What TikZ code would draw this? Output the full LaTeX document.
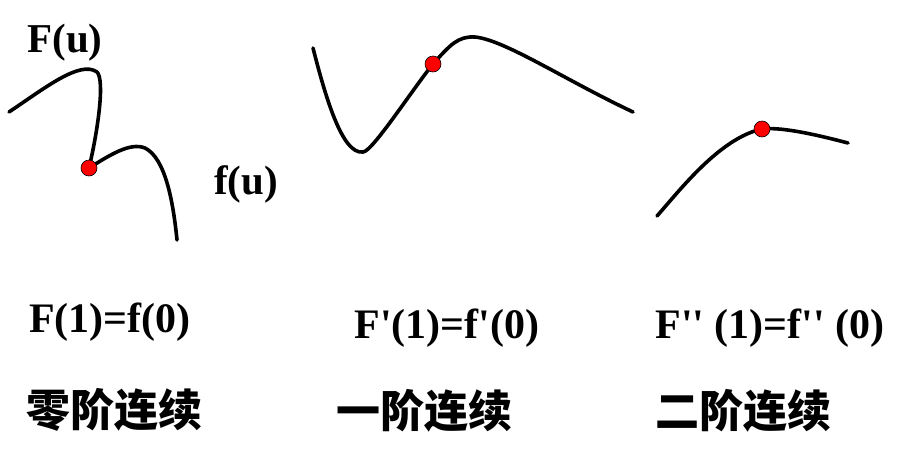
\documentclass[tikz,border=0pt]{standalone}
\usepackage{fontspec}
\newfontfamily\tnr{Liberation Serif}
\newfontfamily\cjk{Noto Sans CJK SC}
\usetikzlibrary{positioning}

\begin{document}
\begin{tikzpicture}[x=1pt,y=-1pt,
  crv/.style={line width=3.6pt,line cap=round,line join=round},
  knot/.style={circle,draw=black,line width=0.6pt,fill=red,minimum size=16pt,inner sep=0pt},
  fn/.style={font=\tnr\bfseries\fontsize{41}{44}\selectfont,inner sep=0pt},
  eq/.style={font=\tnr\bfseries\fontsize{42}{46}\selectfont,inner sep=0pt},
  cls/.style={font=\cjk\bfseries\fontsize{44}{48}\selectfont,inner sep=0pt}]
  \useasboundingbox (0,0) rectangle (912,461);
  \coordinate (k0) at (89,168);
  \coordinate (k1) at (433,64);
  \coordinate (k2) at (762,129);
  \draw[crv] (9,112) .. controls (45,88) and (80,60) .. (97,72)
    .. controls (105,80) and (98,130) .. (k0);
  \draw[crv] (k0) .. controls (110,155) and (130,142) .. (145,148)
    .. controls (165,158) and (173,200) .. (177,240);
  \draw[crv] (313,48) .. controls (325,95) and (342,155) .. (363,152)
    .. controls (372,152) and (412,90) .. (k1)
    .. controls (450,45) and (458,36) .. (475,37)
    .. controls (505,40) and (565,80) .. (633,112);
  \draw[crv] (657,216) .. controls (680,190) and (720,138) .. (k2)
    .. controls (780,127) and (810,133) .. (848,143);
  \node[knot] (dot0) at (k0) {};
  \node[knot] (dot1) at (k1) {};
  \node[knot] (dot2) at (k2) {};
  \node[fn] (Fu) at (65,43) {F(u)};
  \node[fn] (fu) at (246,184) {f(u)};
  \node[eq] (eq0) at (110,322) {F(1)=f(0)};
  \node[eq] (eq1) at (447,328) {F'(1)=f'(0)};
  \node[eq] (eq2) at (770,328) {F'' (1)=f'' (0)};
  \node[cls] (c0) at (114,410) {零阶连续};
  \node[cls] (c1) at (424,411) {一阶连续};
  \node[cls] (c2) at (743,411) {二阶连续};
\end{tikzpicture}
\end{document}
